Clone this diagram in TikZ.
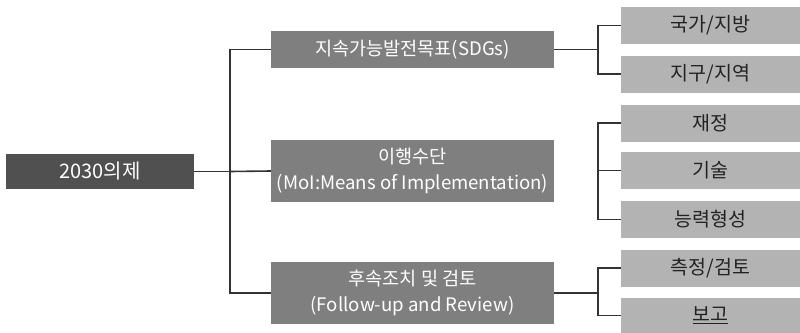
\documentclass[tikz,border=0pt]{standalone}
\usepackage{fontspec}
\setmainfont{Noto Sans CJK KR}
\definecolor{rootc}{HTML}{505050}
\definecolor{midc}{HTML}{7F7F7F}
\definecolor{leafc}{HTML}{B3B3B3}
\definecolor{linec}{HTML}{333333}
\definecolor{leaftext}{HTML}{222222}
\begin{document}
\begin{tikzpicture}[x=1pt,y=-1pt,
  rootbox/.style={fill=rootc,text=white,minimum width=188pt,minimum height=35pt,inner sep=0pt,font=\fontsize{20}{24}\selectfont},
  midbox/.style={fill=midc,text=white,minimum width=283pt,inner sep=0pt,align=center,font=\fontsize{18.6}{26}\selectfont},
  leafbox/.style={fill=leafc,text=leaftext,minimum width=179pt,minimum height=37pt,inner sep=0pt,font=\fontsize{19.5}{23}\selectfont},
  conn/.style={draw=linec,line width=1.6pt}]
\useasboundingbox (0,0) rectangle (800,332);
\node[rootbox] (root) at (100,171.5) {2030의제};
\node[midbox,minimum height=37pt] (m1) at (412.5,49.5) {지속가능발전목표(SDGs)};
\node[midbox,minimum height=62pt] (m2) at (412.5,171) {이행수단\\(MoI:Means of Implementation)};
\node[midbox,minimum height=62pt] (m3) at (412.5,293) {후속조치 및 검토\\(Follow-up and Review)};
\node[leafbox] (r1) at (710.5,25.5) {국가/지방};
\node[leafbox] (r2) at (710.5,74) {지구/지역};
\node[leafbox] (r3) at (710.5,123) {재정};
\node[leafbox] (r4) at (710.5,170.5) {기술};
\node[leafbox] (r5) at (710.5,219.5) {능력형성};
\node[leafbox] (r6) at (710.5,268) {측정/검토};
\node[leafbox,minimum height=35pt] (r7) at (710.5,315.5) {\underline{보고}};
\coordinate (j0) at (230,171.5);
\coordinate (j1) at (598,49.5);
\coordinate (j2) at (598,170.5);
\coordinate (j3) at (598,293);
\draw[conn] (root.east) -- (j0);
\draw[conn] (m1.west) -| (j0);
\draw[conn] (m3.west) -| (j0);
\draw[conn] (m2.west) -- (j0);
\draw[conn] (m1.east) -- (j1);
\draw[conn] (r1.west) -| (j1);
\draw[conn] (r2.west) -| (j1);
\draw[conn] (r4.west) -- (j2);
\draw[conn] (r3.west) -| (j2);
\draw[conn] (r5.west) -| (j2);
\draw[conn] (m3.east) -- (j3);
\draw[conn] (r6.west) -| (j3);
\draw[conn] (r7.west) -| (j3);
\end{tikzpicture}
\end{document}
